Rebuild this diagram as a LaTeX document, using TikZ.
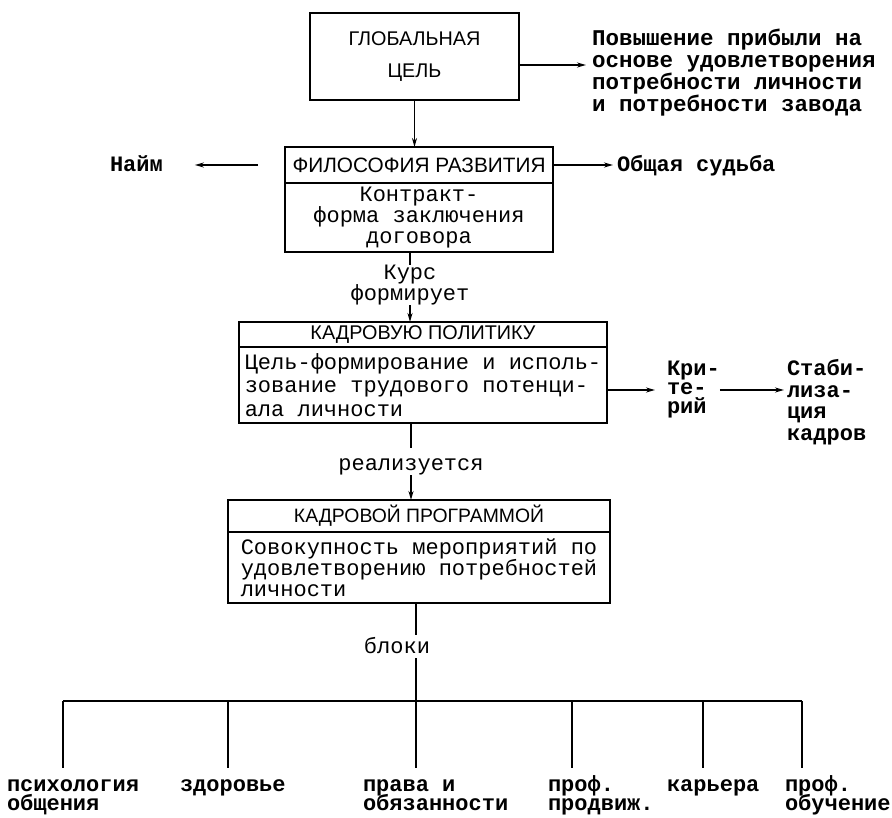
\documentclass[tikz,border=0pt]{standalone}
\usepackage{fontspec}
\usepackage{graphicx}
\setmainfont{Liberation Mono}
\newfontfamily\hdr{Liberation Sans}
\usetikzlibrary{arrows.meta,calc}
\newcommand\mlines[2]{\vtop{\baselineskip=#1pt\relax\lineskiplimit=-100pt\relax\lineskip=0pt\relax#2}}
\begin{document}
\begin{tikzpicture}[x=1pt,y=-1pt,
  every node/.style={inner sep=0pt,outer sep=0pt},
  box/.style={draw,line width=2pt},
  conn/.style={line width=1.6pt},
  arr/.style={conn,-{Stealth[length=9pt,width=5pt]}},
  hfont/.style={font=\hdr\fontsize{19.8}{32}\selectfont},
  bodyf/.style={font=\fontsize{22}{#1}\selectfont},
  lblf/.style={font=\bfseries\fontsize{22}{#1}\selectfont},
]
\useasboundingbox (0,0) rectangle (892,818);

% top box
\node[box, minimum width=209pt, minimum height=87pt, align=center, hfont] (goal) at (414.5,56.5) {ГЛОБАЛЬНАЯ\\ЦЕЛЬ};
\node[font=\bfseries\fontsize{22.5}{22}\selectfont, anchor=base west] (gain) at (592,46)
  {\mlines{22}{\hbox{Повышение прибыли на}\hbox{основе удовлетворения}\hbox{потребности личности}\hbox{и потребности завода}}};
\coordinate (ga) at (519,65);
\draw[arr, shorten >=6pt] (ga) -- (ga -| gain.west);

% box 2
\node[box, minimum width=268pt, minimum height=36pt] (phil) at (419,165) {\resizebox{253pt}{!}{\hdr ФИЛОСОФИЯ РАЗВИТИЯ}};
\node[box, minimum width=268pt, minimum height=69pt, align=center, bodyf=21] (contr) at (419,217.5) {Контракт-\\форма заключения\\договора};
\draw[arr] (goal.south) -- (goal.south |- phil.north);

\node[lblf=22, anchor=base west] (hire) at (110,172) {Найм};
\draw[arr, shorten <=27pt, shorten >=32pt] (phil.west) -- (phil.west -| hire.east);
\node[lblf=22, anchor=base west] (fate) at (617,172) {Общая судьба};
\draw[arr, shorten >=4pt] (phil.east) -- (phil.east -| fate.west);

% Kurs
\node[bodyf=20, align=center] (kurs) at (410,285) {Курс\\формирует};
\draw[conn] (kurs.north |- contr.south) -- (kurs.north);

% box 3
\node[box, minimum width=368pt, minimum height=25pt] (pol) at (423,334.5) {\resizebox{225pt}{!}{\hdr КАДРОВУЮ ПОЛИТИКУ}};
\node[box, minimum width=368pt, minimum height=76pt, align=left, bodyf=23.5] (polb) at (423,385) {Цель-формирование и исполь-\\зование трудового потенци-\\ала личности};
\draw[arr] (kurs.south) -- (kurs.south |- pol.north);

\node[lblf=19, anchor=base west] (crit) at (667,376) {\mlines{19}{\hbox{Кри-}\hbox{те-}\hbox{рий}}};
\node[lblf=21.5, anchor=base west] (stab) at (787,376) {\mlines{21.5}{\hbox{Стаби-}\hbox{лиза-}\hbox{ция}\hbox{кадров}}};
\coordinate (pa) at ([yshift=-5pt]polb.east);
\draw[arr, shorten >=12pt] (pa) -- (pa -| crit.west);
\draw[arr, shorten >=3pt] (pa -| crit.east) -- (pa -| stab.west);

% realizuetsya
\node[bodyf=22] (real) at (411,467) {реализуется};
\draw[conn, shorten >=11pt] (real.north |- polb.south) -- (real.north);

% box 4
\node[box, minimum width=382pt, minimum height=32pt] (prog) at (419,516) {\resizebox{250pt}{!}{\hdr КАДРОВОЙ ПРОГРАММОЙ}};
\node[box, minimum width=382pt, minimum height=71pt, align=left, bodyf=20.5] (progb) at (419,567.5) {Совокупность мероприятий по\\удовлетворению потребностей\\личности};
\draw[arr] (real.south) -- (real.south |- prog.north);

% bloki
\node[bodyf=22] (blocks) at (397,646) {блоки};
\coordinate (k1) at (416,635);
\coordinate (k2) at (416,658);
\coordinate (barL) at (63,701);
\coordinate (barR) at (802,701);
\draw[conn] (k1 |- progb.south) -- (k1);
\draw[conn] (k2) -- (k2 |- barL);
\draw[conn] (barL) -- (barR);

% bottom labels
\node[lblf=19, anchor=base west] (l1) at (7,791) {\mlines{19}{\hbox{психология}\hbox{общения}}};
\node[lblf=19, anchor=base west] (l2) at (180,791) {здоровье};
\node[lblf=19, anchor=base west] (l3) at (363,791) {\mlines{19}{\hbox{права и}\hbox{обязанности}}};
\node[lblf=19, anchor=base west] (l4) at (548,791) {\mlines{19}{\hbox{проф.}\hbox{продвиж.}}};
\node[lblf=19, anchor=base west] (l5) at (667,791) {карьера};
\node[lblf=19, anchor=base west] (l6) at (785,791) {\mlines{19}{\hbox{проф.}\hbox{обучение}}};

\coordinate (t1) at (63,701);
\coordinate (t2) at (228,701);
\coordinate (t3) at (416,701);
\coordinate (t4) at (572,701);
\coordinate (t5) at (703,701);
\coordinate (t6) at (802,701);
\foreach \i in {1,...,6} \draw[conn] (t\i) -- ++(0,67);
\end{tikzpicture}
\end{document}
